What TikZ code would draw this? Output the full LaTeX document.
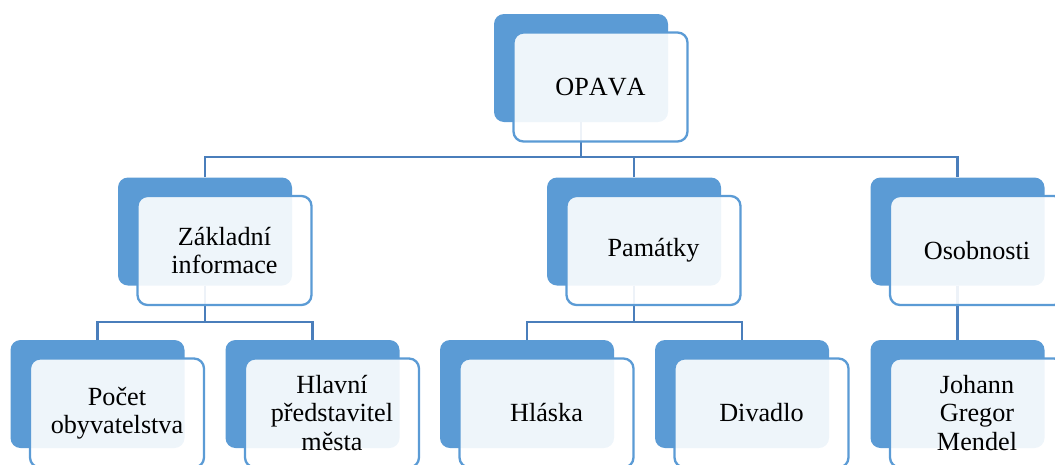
\documentclass[tikz,border=0pt]{standalone}
\usepackage{fontspec}
\setmainfont[Kerning=Off]{Liberation Serif}
\usetikzlibrary{positioning}
\definecolor{boxblue}{HTML}{5B9BD5}
\definecolor{lineblue}{HTML}{4A7EBB}

\begin{document}
\begin{tikzpicture}[x=1pt,y=-1pt,
  every node/.style={align=center,font=\fontsize{26.2}{28.5}\selectfont},
  back/.style={fill=boxblue,rounded corners=10pt,minimum width=174pt,minimum height=108pt,inner sep=0pt},
  front/.style={draw=boxblue,line width=2.3pt,fill=white,fill opacity=.9,text opacity=1,rounded corners=10pt,minimum width=174pt,minimum height=109pt,inner sep=0pt,xshift=19.5pt,yshift=-19pt},
  conn/.style={draw=lineblue,line width=2.2pt}]
\useasboundingbox (0,0) rectangle (1055,464);
\clip (0,0) rectangle (1055,464);
% back boxes
\node[back] (opava) at (581,68) {};
\node[back] (zakl) at (205,231.5) {};
\node[back] (pam) at (634,231.5) {};
\node[back] (osob) at (957.5,231.5) {};
\node[back] (pocet) at (97.5,394) {};
\node[back] (hlavni) at (312.5,394) {};
\node[back] (hlaska) at (527,394) {};
\node[back] (divadlo) at (742,394) {};
\node[back] (mendel) at (957.5,394) {};
% connectors
\coordinate (bus1) at (0,157);
\coordinate (bus2) at (0,322);
\draw[conn] (opava.south) -- (opava.south |- bus1);
\draw[conn] (zakl.north) -- (zakl.north |- bus1) -- (osob.north |- bus1) -- (osob.north);
\draw[conn] (pam.north) -- (pam.north |- bus1);
\draw[conn] (zakl.south) -- (zakl.south |- bus2);
\draw[conn] (pocet.north) -- (pocet.north |- bus2) -- (hlavni.north |- bus2) -- (hlavni.north);
\draw[conn] (pam.south) -- (pam.south |- bus2);
\draw[conn] (hlaska.north) -- (hlaska.north |- bus2) -- (divadlo.north |- bus2) -- (divadlo.north);
\draw[conn] (osob.south) -- (mendel.north);
% front boxes
\node[front] (opavaT) at (opava) {OPAVA};
\node[front] (zaklT) at (zakl) {Základní\\informace};
\node[front] (pamT) at (pam) {Památky};
\node[front] (osobT) at (osob) {Osobnosti};
\node[front] (pocetT) at (pocet) {Počet\\obyvatelstva};
\node[front] (hlavniT) at (hlavni) {Hlavní\\představitel\\města};
\node[front] (hlaskaT) at (hlaska) {Hláska};
\node[front] (divadloT) at (divadlo) {Divadlo};
\node[front] (mendelT) at (mendel) {Johann\\Gregor\\Mendel};
\end{tikzpicture}
\end{document}
